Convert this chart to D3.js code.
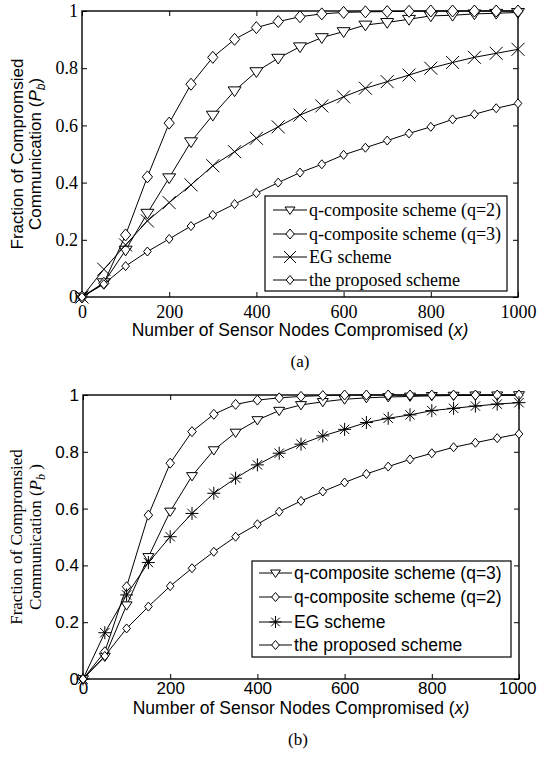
<!DOCTYPE html>
<html>
<head>
<meta charset="utf-8">
<script src="https://cdnjs.cloudflare.com/ajax/libs/d3/7.8.5/d3.min.js"></script>
<style>
  body { margin:0; background:#fff; }
  svg { display:block; }
</style>
</head>
<body>
<div class="canvas"></div>
<script>
// x values (number of compromised nodes)
const nodes = [0,50,100,150,200,250,300,350,400,450,500,550,600,650,700,750,800,850,900,950,1000];
const xTicks = [0,200,400,600,800,1000];
const yTicks = [0,0.2,0.4,0.6,0.8,1];

// panel (a)
const qc2A = [0,0.05,0.164,0.293,0.417,0.543,0.636,0.721,0.788,0.835,0.875,0.907,0.928,0.951,0.96,0.971,0.983,0.985,0.99,0.992,0.995];
const qc3A = [0,0.048,0.217,0.42,0.608,0.744,0.838,0.901,0.942,0.963,0.98,0.99,0.995,0.997,0.998,0.999,1,1,1,1,1];
const egA  = [0,0.097,0.182,0.266,0.33,0.392,0.459,0.508,0.555,0.595,0.636,0.668,0.70,0.73,0.753,0.776,0.80,0.82,0.838,0.852,0.866];
const propA = [0,0.045,0.108,0.159,0.203,0.248,0.287,0.325,0.363,0.40,0.435,0.464,0.497,0.522,0.547,0.572,0.595,0.621,0.639,0.66,0.677];
const legendA = ['q-composite scheme (q=2)','q-composite scheme (q=3)','EG scheme','the proposed scheme'];

// panel (b)
const qc3B = [0,0.079,0.26,0.43,0.59,0.715,0.806,0.868,0.912,0.945,0.965,0.976,0.985,0.99,0.993,0.995,0.997,0.998,0.999,0.999,1];
const qc2B = [0,0.096,0.325,0.577,0.76,0.871,0.932,0.967,0.982,0.99,0.995,0.998,1,1,1,1,1,1,1,1,1];
const egB  = [0,0.163,0.296,0.41,0.501,0.583,0.654,0.707,0.754,0.795,0.827,0.856,0.879,0.903,0.918,0.93,0.945,0.953,0.961,0.968,0.973];
const propB = [0,0.081,0.178,0.255,0.327,0.39,0.448,0.501,0.545,0.589,0.627,0.66,0.692,0.722,0.748,0.773,0.795,0.816,0.832,0.848,0.863];
const legendB = ['q-composite scheme (q=3)','q-composite scheme (q=2)','EG scheme','the proposed scheme'];

const SERIF = '"Liberation Serif","Times New Roman",serif';
const SANS = '"Liberation Sans",Arial,sans-serif';

const svg = d3.select('.canvas')
    .append('svg')
    .attr('width',537)
    .attr('height',757);

// marker shapes, centered at 0,0
const markers = {
    triDown: s => `M${-s},${-s*0.6}L${s},${-s*0.6}L0,${s*0.9}Z`,
    diamond: s => `M0,${-s}L${s*0.85},0L0,${s}L${-s*0.85},0Z`,
    cross: s => `M${-s},${-s}L${s},${s}M${-s},${s}L${s},${-s}`,
    star: s => `M0,${-s}L0,${s}M${-s},0L${s},0M${-s*0.72},${-s*0.72}L${s*0.72},${s*0.72}M${-s*0.72},${s*0.72}L${s*0.72},${-s*0.72}`
};

const drawPanel = (cfg)=>{
    const x = d3.scaleLinear().domain([0,1000]).range([cfg.left,cfg.right]);
    const y = d3.scaleLinear().domain([0,1]).range([cfg.bottom,cfg.top]);
    const g = svg.append('g');

    // inside ticks on all four sides
    const xAxis = g.append('g').attr('transform',`translate(0,${cfg.bottom})`)
        .call(d3.axisBottom(x).tickValues(xTicks).tickSize(-5).tickPadding(cfg.xPad).tickFormat(d3.format('d')));
    const ax = [
        xAxis,
        g.append('g').attr('transform',`translate(0,${cfg.top})`)
            .call(d3.axisTop(x).tickValues(xTicks).tickSize(-5).tickFormat('')),
        g.append('g').attr('transform',`translate(${cfg.left},0)`)
            .call(d3.axisLeft(y).tickValues(yTicks).tickSize(-5).tickPadding(4).tickFormat(d=>d===0||d===1?d3.format('d')(d):d3.format('.1f')(d))),
        g.append('g').attr('transform',`translate(${cfg.right},0)`)
            .call(d3.axisRight(y).tickValues(yTicks).tickSize(-5).tickFormat(''))
    ];
    ax.forEach(a=>{
        a.attr('font-family',null).attr('font-size',null);
        a.select('.domain').remove();
        a.selectAll('line').attr('stroke','#000').attr('stroke-width',1);
        a.selectAll('text').attr('fill','#000')
            .attr('font-family',cfg.tickFont).attr('font-size',cfg.tickSize);
    });
    // keep the last x label inside the page
    xAxis.selectAll('text').filter(d=>d===1000)
        .attr('text-anchor','end').attr('x',536-cfg.right);

    g.append('rect')
        .attr('x',cfg.left).attr('y',cfg.top)
        .attr('width',cfg.right-cfg.left).attr('height',cfg.bottom-cfg.top)
        .attr('fill','none').attr('stroke','#000').attr('stroke-width',1.4);

    const line = d3.line().x((d,i)=>x(nodes[i])).y(d=>y(d));

    cfg.series.forEach(s=>{
        g.append('path').datum(s.values)
            .attr('d',line)
            .attr('fill','none').attr('stroke','#000').attr('stroke-width',1);
        g.selectAll(null).data(s.values).enter()
            .append('path')
            .attr('transform',(d,i)=>`translate(${x(nodes[i])},${y(d)})`)
            .attr('d',markers[s.shape](s.size))
            .attr('fill',s.shape==='cross'||s.shape==='star'?'none':'#fff')
            .attr('stroke','#000').attr('stroke-width',1);
    });

    // legend
    const lg = cfg.legend;
    g.append('rect')
        .attr('x',lg.x).attr('y',lg.y).attr('width',lg.w).attr('height',lg.h)
        .attr('fill','#fff').attr('stroke','#000').attr('stroke-width',1.2);
    cfg.series.forEach((s,i)=>{
        const ry = lg.rows[i];
        g.append('line')
            .attr('x1',lg.lineX[0]).attr('x2',lg.lineX[1])
            .attr('y1',ry).attr('y2',ry)
            .attr('stroke','#000').attr('stroke-width',1);
        g.append('path')
            .attr('transform',`translate(${(lg.lineX[0]+lg.lineX[1])/2},${ry})`)
            .attr('d',markers[s.shape](s.legendSize||s.size))
            .attr('fill',s.shape==='cross'||s.shape==='star'?'none':'#fff')
            .attr('stroke','#000').attr('stroke-width',1);
        g.append('text')
            .attr('x',lg.textX).attr('y',ry).attr('dy','0.35em')
            .attr('font-family',lg.font).attr('font-size',lg.size)
            .text(cfg.labels[i]);
    });

    // x label
    const xl = g.append('text')
        .attr('x',(cfg.left+cfg.right)/2).attr('y',cfg.xLabelY)
        .attr('text-anchor','middle')
        .attr('font-family',SANS).attr('font-size',17.5);
    xl.append('tspan').text('Number of Sensor Nodes Compromised (');
    xl.append('tspan').attr('font-style','italic').text('x)');

    // y label (two lines)
    const yc = (cfg.top+cfg.bottom)/2;
    g.append('text')
        .attr('transform',`translate(${cfg.yLabelX[0]},${yc}) rotate(-90)`)
        .attr('text-anchor','middle')
        .attr('font-family',cfg.yFont).attr('font-size',17)
        .text('Fraction of Compromsied');
    const y2 = g.append('text')
        .attr('transform',`translate(${cfg.yLabelX[1]},${yc}) rotate(-90)`)
        .attr('text-anchor','middle')
        .attr('font-family',cfg.yFont).attr('font-size',17);
    y2.append('tspan').text('Communication (');
    y2.append('tspan').attr('font-style','italic').text('P');
    y2.append('tspan').attr('font-style','italic').attr('font-size',12).attr('dy','4').text('b');
    y2.append('tspan').attr('dy','-4').text(cfg.yClose);

    // caption
    g.append('text')
        .attr('x',cfg.captionX).attr('y',cfg.captionY)
        .attr('text-anchor','middle')
        .attr('font-family',SERIF).attr('font-size',17)
        .text(cfg.caption);
};

drawPanel({
    left:82, right:518, top:11, bottom:297,
    tickFont:SERIF, tickSize:18, xPad:8, yFont:SANS, yClose:')',
    xLabelY:336, yLabelX:[23,41],
    caption:'(a)', captionX:300, captionY:367,
    labels:legendA,
    series:[
        {values:qc2A, shape:'triDown', size:6.5, legendSize:5},
        {values:qc3A, shape:'diamond', size:6, legendSize:5},
        {values:egA, shape:'cross', size:6.5, legendSize:6},
        {values:propA, shape:'diamond', size:4.5, legendSize:4.5}
    ],
    legend:{x:265, y:196, w:242, h:95, rows:[210,234,257,280], lineX:[273,307], textX:309, font:SERIF, size:18}
});

drawPanel({
    left:83, right:519, top:395, bottom:679,
    tickFont:SANS, tickSize:17, xPad:3, yFont:SERIF, yClose:' )',
    xLabelY:714, yLabelX:[22,41],
    caption:'(b)', captionX:298, captionY:745,
    labels:legendB,
    series:[
        {values:qc3B, shape:'triDown', size:5.5, legendSize:5},
        {values:qc2B, shape:'diamond', size:5, legendSize:4.5},
        {values:egB, shape:'star', size:6.5, legendSize:6},
        {values:propB, shape:'diamond', size:4.5, legendSize:4.5}
    ],
    legend:{x:252, y:561, w:259, h:96, rows:[573,597,622,645], lineX:[259,292], textX:294, font:SANS, size:17.5}
});
</script>
</body>
</html>
